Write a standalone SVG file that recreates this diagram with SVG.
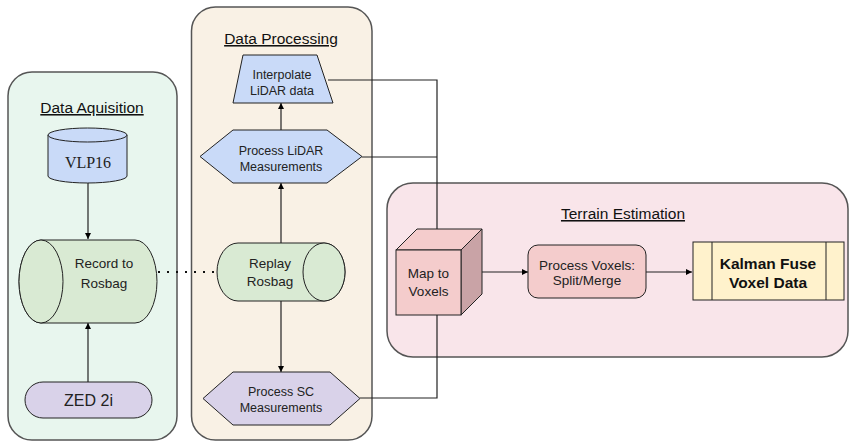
<svg xmlns="http://www.w3.org/2000/svg" width="850" height="441" viewBox="0 0 850 441">
<defs>
<marker id="ah" viewBox="0 0 10 10" refX="10" refY="5" markerWidth="6" markerHeight="6" markerUnits="userSpaceOnUse" orient="auto"><path d="M0,0 L10,5 L0,10 z" fill="#000"/></marker>
<style>
.cont{stroke:#555;stroke-width:1.5}
.n{stroke:#222;stroke-width:1}
.t{font-family:"Liberation Sans",Arial,sans-serif;font-size:13.5px;fill:#222;text-anchor:middle}
.s{font-size:12.5px}
.k{font-size:15.5px;font-weight:bold;fill:#111}
.title{font-family:"Liberation Sans",Arial,sans-serif;font-size:15.5px;fill:#111;text-anchor:middle;text-decoration:underline}
.c{fill:none;stroke:#222;stroke-width:1.2}
</style>
</defs>
<rect width="850" height="441" fill="#fff"/>
<g id="containers">
<rect class="cont" x="8" y="72" width="169" height="368" rx="24" fill="#e8f6ee"/>
<rect class="cont" x="191.5" y="7" width="180.5" height="433" rx="24" fill="#f9f1e5"/>
<rect class="cont" x="387" y="183" width="461" height="174" rx="26" fill="#f9e5ea"/>
<text class="title" x="92" y="113">Data Aquisition</text>
<text class="title" x="281" y="44">Data Processing</text>
<text class="title" x="623" y="219">Terrain Estimation</text>
</g>
<g id="connectors">
<line class="c" x1="88" y1="183" x2="88" y2="239" marker-end="url(#ah)"/>
<line class="c" x1="88" y1="382" x2="88" y2="323" marker-end="url(#ah)"/>
<line x1="158" y1="272" x2="217" y2="272" stroke="#111" stroke-width="2" stroke-dasharray="2,7"/>
<line class="c" x1="281" y1="243" x2="281" y2="183" marker-end="url(#ah)"/>
<line class="c" x1="281" y1="130" x2="281" y2="103" marker-end="url(#ah)"/>
<line class="c" x1="281" y1="301" x2="281" y2="372" marker-end="url(#ah)"/>
<polyline class="c" points="328,80 437,80 437,237" marker-end="url(#ah)"/>
<line class="c" x1="362" y1="157" x2="437" y2="157"/>
<polyline class="c" points="360,398 437,398 437,315"/>
<line class="c" x1="473" y1="272" x2="528" y2="272" marker-end="url(#ah)"/>
<line class="c" x1="646" y1="272" x2="692" y2="272" marker-end="url(#ah)"/>
</g>
<g id="vlp16">
<path class="n" d="M48,135 L48,176 A39.5,7 0 0 0 127,176 L127,135" fill="#c9daf8"/>
<ellipse class="n" cx="87.5" cy="135" rx="39.5" ry="7" fill="#c9daf8"/>
<text x="88" y="168" font-family="'Liberation Serif','Times New Roman',serif" font-size="16" fill="#222" text-anchor="middle">VLP16</text>
</g>
<g id="record">
<path class="n" d="M41,240 L135,240 A22,41.5 0 0 1 135,323 L41,323 A22,41.5 0 0 1 41,240 z" fill="#d9ead3"/>
<ellipse class="n" cx="41" cy="281.5" rx="22" ry="41.5" fill="#d9ead3"/>
<text class="t" x="104" y="268">Record to</text>
<text class="t" x="104" y="288">Rosbag</text>
</g>
<g id="zed">
<rect class="n" x="25" y="382" width="127" height="36" rx="18" fill="#d9d2e9"/>
<text class="t" x="88.5" y="406" style="font-size:16px">ZED 2i</text>
</g>
<g id="replay">
<path class="n" d="M238,243 L324,243 A21,29 0 0 1 324,301 L238,301 A21,29 0 0 1 238,243 z" fill="#d9ead3"/>
<ellipse class="n" cx="324" cy="272" rx="21" ry="29" fill="#d9ead3"/>
<text class="t" x="270" y="268">Replay</text>
<text class="t" x="270" y="286">Rosbag</text>
</g>
<g id="interpolate">
<polygon class="n" points="243,55 317,55 333,103 233,103" fill="#c9daf8"/>
<text class="t s" x="282" y="79">Interpolate</text>
<text class="t s" x="282" y="95">LiDAR data</text>
</g>
<g id="process-lidar">
<polygon class="n" points="200,156.5 233,130 327,130 362,156.5 327,183 233,183" fill="#c9daf8"/>
<text class="t s" x="281" y="155">Process LiDAR</text>
<text class="t s" x="281" y="171">Measurements</text>
</g>
<g id="process-sc">
<polygon class="n" points="203,398.5 233,372 330,372 360,398.5 330,425 233,425" fill="#d9d2e9"/>
<text class="t s" x="281" y="396">Process SC</text>
<text class="t s" x="281" y="412">Measurements</text>
</g>
<g id="map-voxels">
<polygon class="n" points="396,250 417,229 482,229 461,250" fill="#f4cccc"/>
<polygon class="n" points="461,250 482,229 482,294 461,315" fill="#c9a3a6"/>
<rect class="n" x="396" y="250" width="65" height="65" fill="#f4cccc"/>
<text class="t" x="428.5" y="278">Map to</text>
<text class="t" x="428.5" y="296">Voxels</text>
</g>
<g id="process-voxels">
<rect class="n" x="528" y="245" width="118" height="53" rx="10" fill="#f4cccc"/>
<text class="t" x="587" y="270">Process Voxels:</text>
<text class="t" x="587" y="285">Split/Merge</text>
</g>
<g id="kalman">
<rect class="n" x="693" y="242" width="151" height="58" fill="#fff2cc"/>
<line class="n" x1="712" y1="242" x2="712" y2="300"/>
<line class="n" x1="826" y1="242" x2="826" y2="300"/>
<text class="t k" x="768" y="269">Kalman Fuse</text>
<text class="t k" x="768" y="288">Voxel Data</text>
</g>
</svg>
